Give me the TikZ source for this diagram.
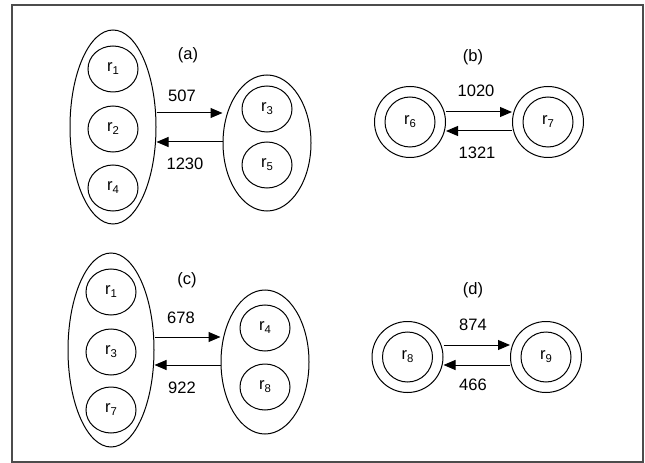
\documentclass[tikz,border=0pt]{standalone}
\usepackage{fontspec}
\setmainfont{Liberation Sans}
\usetikzlibrary{shapes.geometric,arrows.meta}
\newcommand{\rsub}[1]{r\raisebox{-0.35ex}{\fontsize{8.5}{9}\selectfont #1}}
\begin{document}
\begin{tikzpicture}[x=0.75pt,y=-0.75pt,
  every node/.style={font=\fontsize{12.4}{14}\selectfont},
  bigell/.style={draw, ellipse, line width=0.75pt, inner sep=0pt, minimum width=64.5pt},
  smallc/.style={draw, ellipse, line width=0.75pt, inner sep=0pt, minimum width=37.5pt, minimum height=34.5pt},
  outerc/.style={draw, circle, line width=0.75pt, inner sep=0pt, minimum size=53.25pt},
  innerc/.style={draw, circle, line width=0.75pt, inner sep=0pt, minimum size=37.5pt},
  arr/.style={line width=0.75pt, -{Triangle[length=9pt,width=7.5pt]}},
  lbl/.style={inner sep=0pt},
  frame/.style={draw=black!70, line width=1.1pt}]
\useasboundingbox (0,0) rectangle (645,463);
\draw[frame] (12,5) rectangle (643,462);
% (a)
\node[bigell, minimum height=145.5pt] (La) at (113,127) {};
\node[smallc] (a1) at (113,69) {\rsub{1}};
\node[smallc] (a2) at (113,129) {\rsub{2}};
\node[smallc] (a4) at (113,188) {\rsub{4}};
\node[bigell, minimum width=66pt, minimum height=102pt] (Ra) at (267,143) {};
\node[smallc] (a3) at (267,109) {\rsub{3}};
\node[smallc] (a5) at (267,165) {\rsub{5}};
\draw[arr] (La.east |- 0,113) -- (Ra.west |- 0,113);
\draw[arr] (Ra.west |- 0,142) -- (La.east |- 0,142);
\node[lbl] (ta) at (188,55) {(a)};
\node[lbl] (ta1) at (182,96) {507};
\node[lbl] (ta2) at (185,164) {1230};
% (b)
\node[outerc] (b6o) at (410,122) {};
\node[innerc] (b6) at (410,122) {\rsub{6}};
\node[outerc] (b7o) at (548,122) {};
\node[innerc] (b7) at (548,122) {\rsub{7}};
\draw[arr] (b6o.east |- 0,112) -- (b7o.west |- 0,112);
\draw[arr] (b7o.west |- 0,131) -- (b6o.east |- 0,131);
\node[lbl] (tb) at (473,57) {(b)};
\node[lbl] (tb1) at (476,91) {1020};
\node[lbl] (tb2) at (477,153) {1321};
% (c)
\node[bigell, minimum height=145.5pt] (Lc) at (111,350) {};
\node[smallc] (c1) at (111,292) {\rsub{1}};
\node[smallc] (c3) at (111,352) {\rsub{3}};
\node[smallc] (c7) at (111,410) {\rsub{7}};
\node[bigell, minimum width=66pt, minimum height=108pt] (Rc) at (265,362) {};
\node[smallc] (c4) at (265,328) {\rsub{4}};
\node[smallc] (c8) at (265,387) {\rsub{8}};
\draw[arr] (Lc.east |- 0,337) -- (Rc.west |- 0,337);
\draw[arr] (Rc.west |- 0,365) -- (Lc.east |- 0,365);
\node[lbl] (tc) at (187,280) {(c)};
\node[lbl] (tc1) at (181,318) {678};
\node[lbl] (tc2) at (182,388) {922};
% (d)
\node[outerc] (d8o) at (407.5,357) {};
\node[innerc] (d8) at (407.5,357) {\rsub{8}};
\node[outerc] (d9o) at (546,357) {};
\node[innerc] (d9) at (546,357) {\rsub{9}};
\draw[arr] (d8o.east |- 0,345) -- (d9o.west |- 0,345);
\draw[arr] (d9o.west |- 0,365) -- (d8o.east |- 0,365);
\node[lbl] (td) at (473,290) {(d)};
\node[lbl] (td1) at (473,325) {874};
\node[lbl] (td2) at (473,385) {466};
\end{tikzpicture}
\end{document}
